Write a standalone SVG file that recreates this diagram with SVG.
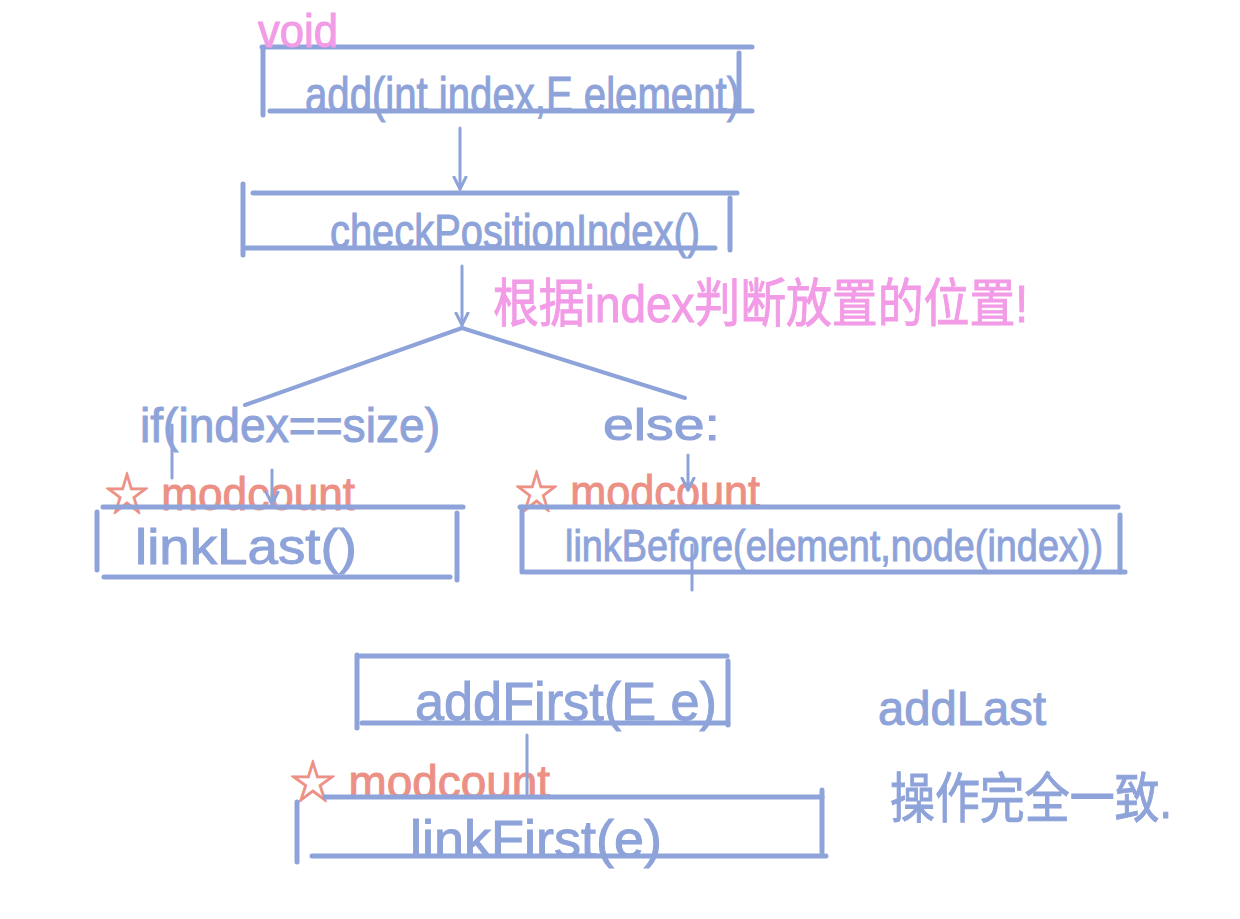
<svg xmlns="http://www.w3.org/2000/svg" width="1240" height="919" viewBox="0 0 1240 919">
<defs>
<style>
.ln{stroke:#8ea3d9;stroke-width:5;stroke-linecap:round;fill:none}
.bt{fill:#8ea3d9;stroke:#8ea3d9;stroke-width:1;font-family:"Liberation Sans","Noto Sans CJK SC",sans-serif}
.pk{fill:#f29be6;stroke:#f29be6;stroke-width:1;font-family:"Liberation Sans","Noto Sans CJK SC",sans-serif}
.rd{fill:#ec9085;stroke:#ec9085;stroke-width:1;font-family:"Liberation Sans","Noto Sans CJK SC",sans-serif}
</style>
<marker id="ah" markerWidth="16" markerHeight="16" refX="13" refY="8" orient="auto" markerUnits="userSpaceOnUse" viewBox="0 0 16 16">
<path d="M1,2 L13,8 L1,14" fill="none" stroke="#8ea3d9" stroke-width="3" stroke-linecap="round" stroke-linejoin="round"/>
</marker>
</defs>
<rect width="1240" height="919" fill="#ffffff"/>

<g id="node-add">
<line class="ln" x1="262" y1="47" x2="752" y2="47"/>
<line class="ln" x1="263" y1="48" x2="263" y2="115"/>
<line class="ln" x1="270" y1="111" x2="752" y2="111"/>
<line class="ln" x1="739" y1="53" x2="739" y2="108"/>
<text class="pk" x="258" y="47" font-size="46" textLength="80" lengthAdjust="spacingAndGlyphs">void</text>
<text class="bt" x="305" y="112" font-size="50" textLength="435" lengthAdjust="spacingAndGlyphs">add(int index,E element)</text>
</g>

<g id="node-check">
<line class="ln" x1="253" y1="193" x2="737" y2="193"/>
<line class="ln" x1="245" y1="248" x2="715" y2="248"/>
<line class="ln" x1="243" y1="184" x2="243" y2="255"/>
<line class="ln" x1="730" y1="198" x2="730" y2="250"/>
<text class="bt" x="330" y="248" font-size="48" textLength="370" lengthAdjust="spacingAndGlyphs">checkPositionIndex()</text>
</g>

<g id="note-index">
<text class="pk" x="493" y="322" font-size="52" textLength="535" lengthAdjust="spacingAndGlyphs">根据index判断放置的位置!</text>
</g>

<g id="cond-if">
<text class="bt" x="140" y="442" font-size="48" textLength="300" lengthAdjust="spacingAndGlyphs">if(index==size)</text>
<line class="ln" x1="172" y1="425" x2="172" y2="478" style="stroke-width:3"/>
</g>

<g id="cond-else">
<text class="bt" x="603" y="440" font-size="44" textLength="117" lengthAdjust="spacingAndGlyphs">else:</text>
</g>

<g id="mod-left">
<text class="rd" x="105" y="510" font-size="46" textLength="250" lengthAdjust="spacingAndGlyphs">☆ modcount</text>
</g>

<g id="mod-right">
<text class="rd" x="515" y="508" font-size="46" textLength="245" lengthAdjust="spacingAndGlyphs">☆ modcount</text>
</g>

<g id="node-linklast">
<line class="ln" x1="103" y1="507" x2="463" y2="507"/>
<line class="ln" x1="104" y1="577" x2="450" y2="577"/>
<line class="ln" x1="97" y1="512" x2="97" y2="570"/>
<line class="ln" x1="457" y1="513" x2="457" y2="580"/>
<text class="bt" x="135" y="564" font-size="50" textLength="222" lengthAdjust="spacingAndGlyphs">linkLast()</text>
</g>

<g id="node-linkbefore">
<line class="ln" x1="520" y1="507" x2="1118" y2="507"/>
<line class="ln" x1="525" y1="572" x2="1125" y2="572"/>
<line class="ln" x1="522" y1="507" x2="522" y2="572"/>
<line class="ln" x1="1120" y1="515" x2="1120" y2="572"/>
<line class="ln" x1="692" y1="545" x2="692" y2="590" style="stroke-width:3"/>
<text class="bt" x="565" y="561" font-size="44" textLength="538" lengthAdjust="spacingAndGlyphs">linkBefore(element,node(index))</text>
</g>

<g id="node-addfirst">
<line class="ln" x1="360" y1="656" x2="727" y2="656"/>
<line class="ln" x1="362" y1="723" x2="728" y2="723"/>
<line class="ln" x1="357" y1="655" x2="357" y2="728"/>
<line class="ln" x1="728" y1="661" x2="728" y2="725"/>
<text class="bt" x="415" y="720" font-size="54" textLength="302" lengthAdjust="spacingAndGlyphs">addFirst(E e)</text>
</g>

<g id="mod-bottom">
<text class="rd" x="290" y="798" font-size="46" textLength="260" lengthAdjust="spacingAndGlyphs">☆ modcount</text>
</g>

<g id="node-linkfirst">
<line class="ln" x1="325" y1="797" x2="822" y2="797"/>
<line class="ln" x1="312" y1="856" x2="826" y2="856"/>
<line class="ln" x1="297" y1="802" x2="297" y2="862"/>
<line class="ln" x1="822" y1="790" x2="822" y2="852"/>
<text class="bt" x="410" y="857" font-size="52" textLength="252" lengthAdjust="spacingAndGlyphs">linkFirst(e)</text>
</g>

<g id="note-addlast">
<text class="bt" x="878" y="725" font-size="48" textLength="168" lengthAdjust="spacingAndGlyphs">addLast</text>
<text class="bt" x="890" y="818" font-size="54" textLength="282" lengthAdjust="spacingAndGlyphs">操作完全一致.</text>
</g>

<g id="connectors">
<line class="ln" x1="460" y1="128" x2="460" y2="189" marker-end="url(#ah)" style="stroke-width:3"/>
<line class="ln" x1="462" y1="266" x2="462" y2="325" marker-end="url(#ah)" style="stroke-width:3"/>
<line class="ln" x1="462" y1="328" x2="245" y2="405" style="stroke-width:4"/>
<line class="ln" x1="462" y1="328" x2="685" y2="398" style="stroke-width:4"/>
<line class="ln" x1="272" y1="470" x2="272" y2="504" marker-end="url(#ah)" style="stroke-width:3"/>
<line class="ln" x1="688" y1="455" x2="688" y2="490" marker-end="url(#ah)" style="stroke-width:3"/>
<line class="ln" x1="527" y1="735" x2="527" y2="795" style="stroke-width:3"/>
</g>
</svg>
